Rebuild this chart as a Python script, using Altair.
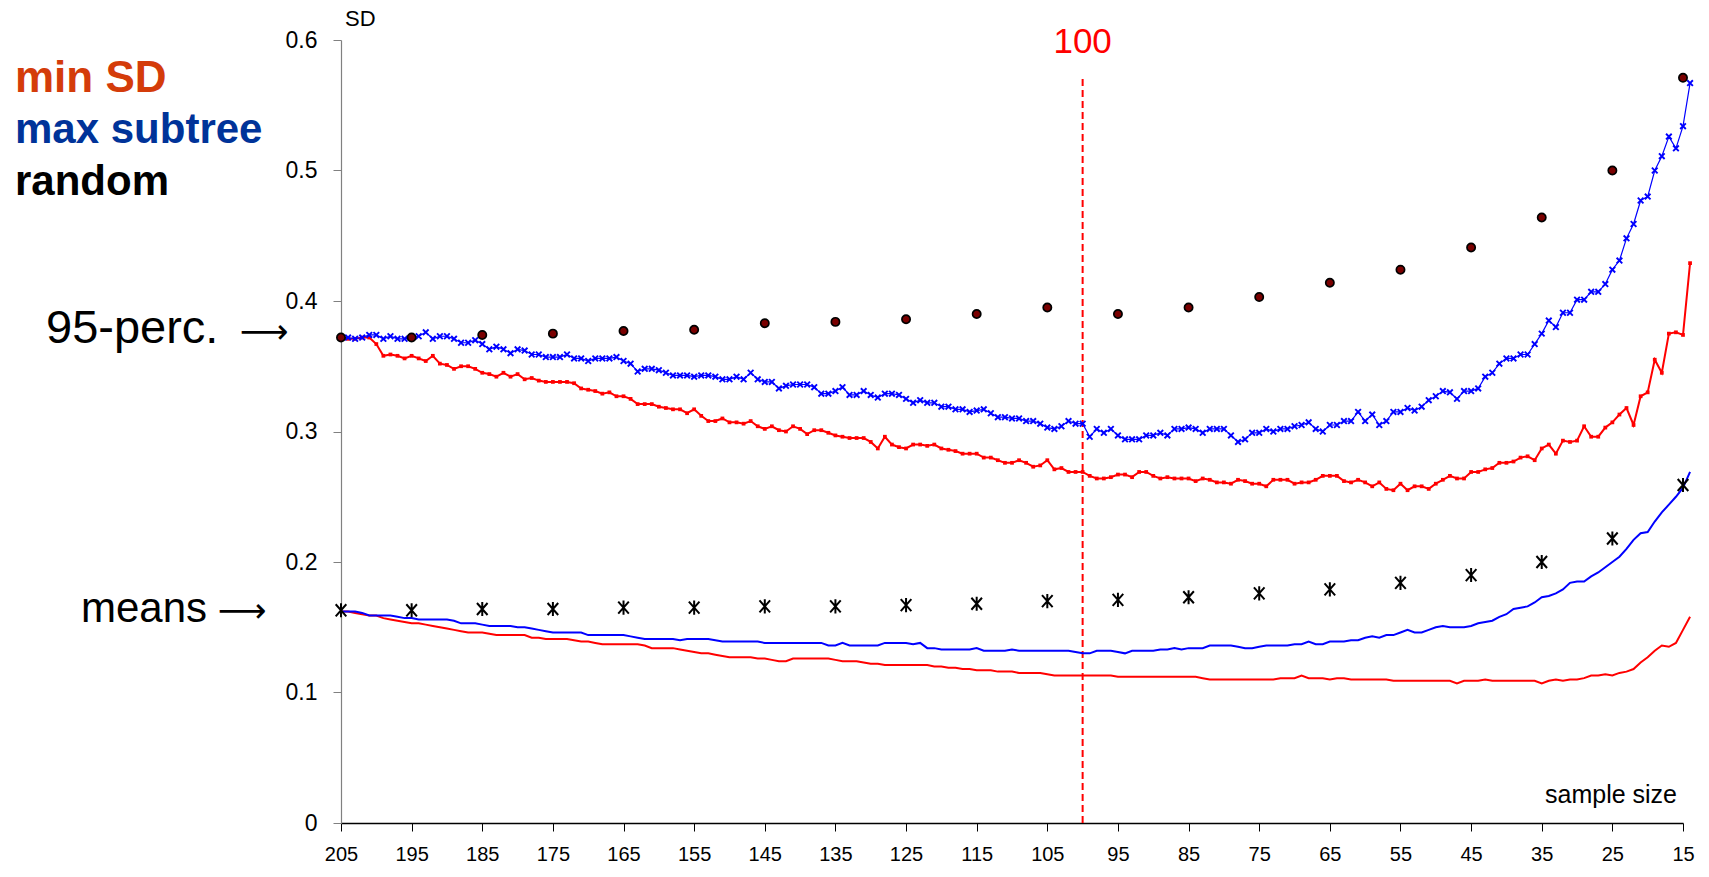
import altair as alt
import pandas as pd

# ---------------- data ----------------
sample_sizes = list(range(205, 13, -1))  # 205 ... 14

minsd_95 = [
    0.372, 0.371, 0.371, 0.372, 0.372, 0.367, 0.358, 0.359, 0.358, 0.356,
    0.358, 0.356, 0.354, 0.358, 0.352, 0.351, 0.348, 0.350, 0.350, 0.348,
    0.345, 0.344, 0.342, 0.345, 0.342, 0.344, 0.340, 0.341, 0.339, 0.338,
    0.338, 0.338, 0.338, 0.337, 0.333, 0.332, 0.331, 0.329, 0.330, 0.327,
    0.327, 0.325, 0.321, 0.321, 0.321, 0.319, 0.318, 0.317, 0.317, 0.314,
    0.317, 0.312, 0.308, 0.308, 0.310, 0.307, 0.307, 0.306, 0.308, 0.304,
    0.302, 0.304, 0.301, 0.300, 0.304, 0.302, 0.298, 0.301, 0.301, 0.299,
    0.297, 0.296, 0.295, 0.295, 0.295, 0.292, 0.287, 0.296, 0.290, 0.288,
    0.287, 0.290, 0.290, 0.289, 0.290, 0.287, 0.286, 0.285, 0.283, 0.283,
    0.283, 0.280, 0.280, 0.278, 0.276, 0.276, 0.278, 0.276, 0.273, 0.274,
    0.278, 0.271, 0.272, 0.269, 0.269, 0.269, 0.266, 0.264, 0.264, 0.265,
    0.267, 0.267, 0.265, 0.269, 0.269, 0.266, 0.264, 0.265, 0.264, 0.264,
    0.264, 0.262, 0.264, 0.263, 0.261, 0.261, 0.260, 0.263, 0.262, 0.260,
    0.260, 0.258, 0.263, 0.263, 0.263, 0.260, 0.261, 0.261, 0.263, 0.266,
    0.266, 0.266, 0.262, 0.261, 0.263, 0.261, 0.258, 0.261, 0.256, 0.255,
    0.260, 0.255, 0.258, 0.258, 0.256, 0.260, 0.263, 0.266, 0.264, 0.264,
    0.269, 0.269, 0.271, 0.272, 0.276, 0.276, 0.277, 0.280, 0.281, 0.278,
    0.287, 0.290, 0.283, 0.293, 0.292, 0.293, 0.304, 0.296, 0.296, 0.303,
    0.307, 0.313, 0.318, 0.305, 0.327, 0.330, 0.355, 0.345, 0.375, 0.376,
    0.374, 0.429,
]

maxsub_95 = [
    0.372, 0.372, 0.371, 0.372, 0.374, 0.374, 0.371, 0.373, 0.371, 0.371,
    0.372, 0.373, 0.376, 0.371, 0.373, 0.373, 0.371, 0.368, 0.368, 0.370,
    0.367, 0.363, 0.365, 0.363, 0.360, 0.363, 0.362, 0.359, 0.359, 0.357,
    0.357, 0.357, 0.359, 0.356, 0.356, 0.354, 0.356, 0.356, 0.356, 0.357,
    0.354, 0.352, 0.346, 0.348, 0.348, 0.347, 0.345, 0.343, 0.343, 0.343,
    0.342, 0.343, 0.343, 0.342, 0.340, 0.340, 0.342, 0.340, 0.345, 0.340,
    0.338, 0.338, 0.333, 0.335, 0.336, 0.336, 0.336, 0.334, 0.329, 0.329,
    0.331, 0.334, 0.328, 0.328, 0.331, 0.328, 0.326, 0.329, 0.329, 0.328,
    0.325, 0.322, 0.324, 0.322, 0.322, 0.319, 0.319, 0.317, 0.317, 0.315,
    0.316, 0.317, 0.314, 0.311, 0.311, 0.310, 0.310, 0.308, 0.308, 0.306,
    0.303, 0.302, 0.304, 0.308, 0.306, 0.306, 0.296, 0.302, 0.299, 0.302,
    0.297, 0.294, 0.294, 0.294, 0.297, 0.297, 0.299, 0.297, 0.302, 0.302,
    0.303, 0.302, 0.299, 0.302, 0.302, 0.302, 0.297, 0.292, 0.294, 0.299,
    0.299, 0.302, 0.300, 0.302, 0.302, 0.304, 0.305, 0.307, 0.302, 0.300,
    0.305, 0.305, 0.308, 0.308, 0.315, 0.308, 0.313, 0.305, 0.308, 0.315,
    0.315, 0.318, 0.316, 0.319, 0.324, 0.327, 0.331, 0.330, 0.325, 0.331,
    0.331, 0.333, 0.342, 0.345, 0.352, 0.356, 0.356, 0.359, 0.359, 0.367,
    0.375, 0.385, 0.380, 0.391, 0.391, 0.401, 0.401, 0.407, 0.407, 0.413,
    0.424, 0.431, 0.448, 0.459, 0.477, 0.480, 0.500, 0.511, 0.526, 0.517,
    0.534, 0.567,
]

maxsub_mean = [
    0.162, 0.162, 0.162, 0.161, 0.159, 0.159, 0.159, 0.159, 0.158, 0.157,
    0.157, 0.156, 0.156, 0.156, 0.156, 0.156, 0.155, 0.153, 0.153, 0.153,
    0.152, 0.151, 0.151, 0.151, 0.151, 0.150, 0.150, 0.149, 0.148, 0.147,
    0.146, 0.146, 0.146, 0.146, 0.146, 0.144, 0.144, 0.144, 0.144, 0.144,
    0.144, 0.143, 0.142, 0.141, 0.141, 0.141, 0.141, 0.141, 0.140, 0.141,
    0.141, 0.141, 0.141, 0.140, 0.139, 0.139, 0.139, 0.139, 0.139, 0.139,
    0.138, 0.138, 0.138, 0.138, 0.138, 0.138, 0.138, 0.138, 0.138, 0.136,
    0.136, 0.138, 0.136, 0.136, 0.136, 0.136, 0.136, 0.138, 0.138, 0.138,
    0.138, 0.137, 0.138, 0.134, 0.134, 0.133, 0.133, 0.133, 0.133, 0.133,
    0.134, 0.132, 0.132, 0.132, 0.132, 0.133, 0.132, 0.132, 0.132, 0.132,
    0.132, 0.132, 0.132, 0.132, 0.131, 0.130, 0.130, 0.132, 0.132, 0.132,
    0.131, 0.130, 0.132, 0.132, 0.132, 0.132, 0.133, 0.133, 0.134, 0.133,
    0.134, 0.134, 0.134, 0.136, 0.136, 0.136, 0.136, 0.135, 0.134, 0.134,
    0.135, 0.136, 0.136, 0.136, 0.136, 0.137, 0.137, 0.139, 0.137, 0.137,
    0.139, 0.139, 0.139, 0.140, 0.140, 0.142, 0.143, 0.142, 0.144, 0.144,
    0.146, 0.148, 0.146, 0.146, 0.148, 0.150, 0.151, 0.150, 0.150, 0.150,
    0.151, 0.153, 0.154, 0.155, 0.158, 0.160, 0.164, 0.165, 0.166, 0.169,
    0.173, 0.174, 0.176, 0.179, 0.184, 0.185, 0.185, 0.189, 0.192, 0.196,
    0.200, 0.204, 0.210, 0.217, 0.222, 0.223, 0.231, 0.238, 0.244, 0.250,
    0.257, 0.269,
]

minsd_mean = [
    0.162, 0.162, 0.161, 0.160, 0.159, 0.159, 0.157, 0.156, 0.155, 0.154,
    0.153, 0.153, 0.152, 0.151, 0.150, 0.149, 0.148, 0.147, 0.146, 0.146,
    0.146, 0.145, 0.144, 0.144, 0.144, 0.144, 0.144, 0.142, 0.142, 0.141,
    0.141, 0.141, 0.141, 0.140, 0.139, 0.139, 0.138, 0.137, 0.137, 0.137,
    0.137, 0.137, 0.137, 0.136, 0.134, 0.134, 0.134, 0.134, 0.133, 0.132,
    0.131, 0.130, 0.130, 0.129, 0.128, 0.127, 0.127, 0.127, 0.127, 0.126,
    0.126, 0.125, 0.124, 0.124, 0.126, 0.126, 0.126, 0.126, 0.126, 0.126,
    0.125, 0.124, 0.124, 0.124, 0.123, 0.122, 0.122, 0.121, 0.121, 0.121,
    0.121, 0.121, 0.121, 0.121, 0.120, 0.120, 0.119, 0.119, 0.118, 0.118,
    0.117, 0.117, 0.117, 0.116, 0.116, 0.116, 0.115, 0.115, 0.115, 0.115,
    0.114, 0.113, 0.113, 0.113, 0.113, 0.113, 0.113, 0.113, 0.113, 0.113,
    0.112, 0.112, 0.112, 0.112, 0.112, 0.112, 0.112, 0.112, 0.112, 0.112,
    0.112, 0.112, 0.111, 0.110, 0.110, 0.110, 0.110, 0.110, 0.110, 0.110,
    0.110, 0.110, 0.110, 0.111, 0.111, 0.111, 0.113, 0.111, 0.111, 0.111,
    0.110, 0.111, 0.111, 0.110, 0.110, 0.110, 0.110, 0.110, 0.110, 0.109,
    0.109, 0.109, 0.109, 0.109, 0.109, 0.109, 0.109, 0.109, 0.107, 0.109,
    0.109, 0.109, 0.110, 0.109, 0.109, 0.109, 0.109, 0.109, 0.109, 0.109,
    0.107, 0.109, 0.110, 0.109, 0.110, 0.110, 0.111, 0.113, 0.113, 0.114,
    0.113, 0.115, 0.116, 0.118, 0.123, 0.127, 0.132, 0.136, 0.135, 0.138,
    0.148, 0.158,
]

random_sizes = [205, 195, 185, 175, 165, 155, 145, 135, 125, 115,
                105, 95, 85, 75, 65, 55, 45, 35, 25, 15]
random_95 = [0.372, 0.372, 0.374, 0.375, 0.377, 0.378, 0.383, 0.384, 0.386, 0.390,
             0.395, 0.390, 0.395, 0.403, 0.414, 0.424, 0.441, 0.464, 0.500, 0.571]
random_mean = [0.163, 0.163, 0.164, 0.164, 0.165, 0.165, 0.166, 0.166, 0.167, 0.168,
               0.170, 0.171, 0.173, 0.176, 0.179, 0.184, 0.190, 0.200, 0.218, 0.259]

x_ticks = [205, 195, 185, 175, 165, 155, 145, 135, 125, 115,
           105, 95, 85, 75, 65, 55, 45, 35, 25, 15]
y_ticks = [0, 0.1, 0.2, 0.3, 0.4, 0.5, 0.6]
cutoff_size = [100]
cutoff_top = [0.571]

# ---------------- chart ----------------
FONT = "Liberation Sans"
RED = "#FF0000"
BLUE = "#0000FF"

W, H = 1342, 783

line_df = pd.DataFrame({
    "n": sample_sizes,
    "minsd_95": minsd_95,
    "maxsub_95": maxsub_95,
    "minsd_mean": minsd_mean,
    "maxsub_mean": maxsub_mean,
})
rand_df = pd.DataFrame({"n": random_sizes, "r95": random_95, "rmean": random_mean})
cut_df = pd.DataFrame({"n": cutoff_size, "y0": [0.0], "y1": cutoff_top, "lab": ["100"]})

xscale = alt.Scale(domain=[15, 205], reverse=True, nice=False, zero=False)
yscale = alt.Scale(domain=[0, 0.6], nice=False, zero=True)

xaxis = alt.Axis(values=x_ticks, title=None, grid=False, tickSize=8, tickColor="#000000",
                 domainColor="#000000", domainWidth=1.5, labelFontSize=20,
                 labelPadding=13, labelColor="#000000", labelFont=FONT, labelFlush=False)
yaxis = alt.Axis(values=y_ticks, format="~g", title=None, grid=False, tickSize=8,
                 tickColor="#808080", domainColor="#808080", domainWidth=1.2,
                 labelFontSize=23, labelPadding=16, labelColor="#000000", labelFont=FONT)


def X():
    return alt.X("n:Q", scale=xscale, axis=xaxis)


def Yf(field):
    return alt.Y(f"{field}:Q", scale=yscale, axis=yaxis)


base = alt.Chart(line_df)

cut_rule = alt.Chart(cut_df).mark_rule(color=RED, strokeWidth=2, strokeDash=[7, 4]).encode(
    x=X(), y=Yf("y0"), y2="y1:Q")

red_mean = base.mark_line(color=RED, strokeWidth=2).encode(x=X(), y=Yf("minsd_mean"))
blue_mean = base.mark_line(color=BLUE, strokeWidth=2).encode(x=X(), y=Yf("maxsub_mean"))

red95_line = base.mark_line(color=RED, strokeWidth=2).encode(x=X(), y=Yf("minsd_95"))
red95_pts = base.mark_point(shape="square", filled=True, color=RED, size=14, opacity=1).encode(
    x=X(), y=Yf("minsd_95"))

blue95_line = base.mark_line(color=BLUE, strokeWidth=1.2).encode(x=X(), y=Yf("maxsub_95"))
blue95_pts = base.mark_point(shape="M-1,-1L1,1M-1,1L1,-1", filled=False, stroke=BLUE,
                             strokeWidth=1.9, size=32, opacity=1).encode(
    x=X(), y=Yf("maxsub_95"))

rand95_pts = alt.Chart(rand_df).mark_point(shape="circle", filled=True, fill="#7A0000",
                                           stroke="#000000", strokeWidth=1.7, size=68,
                                           opacity=1).encode(x=X(), y=Yf("r95"))
randmean_pts = alt.Chart(rand_df).mark_point(
    shape="M-0.75,-0.85L0.75,0.85M-0.75,0.85L0.75,-0.85M0,-1L0,1", filled=False,
    stroke="#000000", strokeWidth=2, size=200, opacity=1).encode(x=X(), y=Yf("rmean"))

cut_label = alt.Chart(cut_df).mark_text(color=RED, fontSize=35, font=FONT, align="center",
                                         baseline="alphabetic").encode(
    x=X(), y=alt.value(13), text="lab:N")


def label(txt, px, py, size, color="#000000", weight="normal", align="left", font=FONT):
    return alt.Chart(pd.DataFrame({"t": [txt]})).mark_text(
        fontSize=size, font=font, color=color, fontWeight=weight, align=align,
        baseline="alphabetic").encode(x=alt.value(px), y=alt.value(py), text="t:N")


texts = [
    label("min SD", -326, 52, 44, "#D43C0A", "bold"),
    label("max subtree", -326, 103, 42, "#003399", "bold"),
    label("random", -326, 155, 42, "#000000", "bold"),
    label("95-perc.", -295, 303, 47),
    label("⟶", -77, 303, 34, align="center", font="DejaVu Sans"),
    label("means", -260, 582, 42),
    label("⟶", -99, 582, 34, align="center", font="DejaVu Sans"),
    label("SD", 4, -14, 22),
    label("sample size", 1336, 763, 25, align="right"),
]

chart = alt.layer(
    cut_rule, red_mean, blue_mean, red95_line, red95_pts, blue95_line, blue95_pts,
    rand95_pts, randmean_pts, cut_label, *texts
).properties(
    width=W, height=H,
    padding={"left": 341, "top": 40, "right": 26, "bottom": 54},
    autosize=alt.AutoSizeParams(type="none"),
    background="#FFFFFF",
).configure_view(stroke=None)

chart.save("out.html", embed_options={"renderer": "svg", "actions": False})
